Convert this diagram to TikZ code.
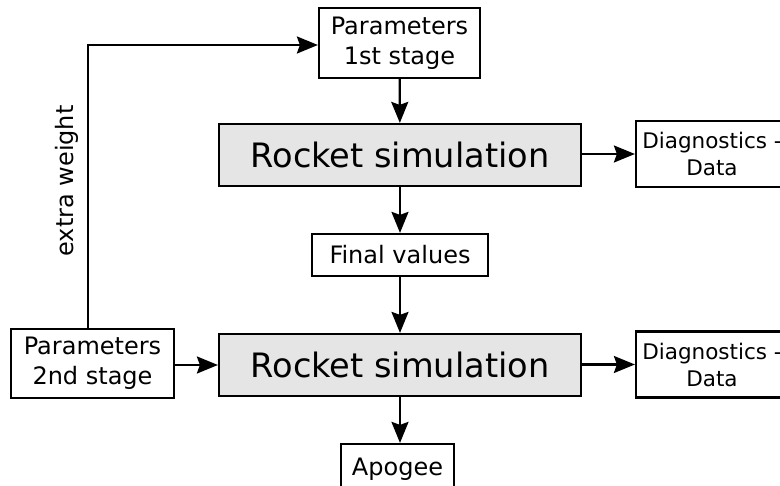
\documentclass[tikz,border=0pt]{standalone}
\usepackage{fontspec}
\setmainfont{DejaVu Sans}
\usetikzlibrary{arrows.meta,calc}
\begin{document}
\begin{tikzpicture}[x=1pt,y=-1pt,
  box/.style={draw,line width=2.2pt,inner sep=0pt,align=center,font=\fontsize{24}{30}\selectfont},
  sim/.style={box,fill=black!10,font=\fontsize{33.6}{40}\selectfont},
  diag/.style={box,font=\fontsize{21.5}{27}\selectfont},
  arr/.style={line width=2.2pt,-{Stealth[length=21pt,width=17pt,inset=3pt]}},
  lbl/.style={font=\fontsize{24}{30}\selectfont}]
\useasboundingbox (0,0) rectangle (780,486);
\clip (0,0) rectangle (780,486);
\node[box,minimum width=161pt,minimum height=70pt] (p1) at (399.5,43) {Parameters\\1st stage};
\node[sim,minimum width=362pt,minimum height=62pt] (r1) at (400,155) {Rocket simulation};
\node[diag,minimum width=152pt,minimum height=66pt] (d1) at (712,154) {Diagnostics -\\Data};
\node[box,minimum width=176pt,minimum height=42pt] (fv) at (400,255) {Final values};
\node[sim,minimum width=362pt,minimum height=62pt] (r2) at (400,365) {Rocket simulation};
\node[diag,minimum width=152pt,minimum height=66pt] (d2) at (712,364.5) {Diagnostics -\\Data};
\node[box,minimum width=163pt,minimum height=69pt] (p2) at (92.5,363.5) {Parameters\\2nd stage};
\node[box,minimum width=113pt,minimum height=50pt] (ap) at (397.5,469) {Apogee};
\coordinate (ew) at (88,45);
\draw[arr] (p1) -- (r1);
\draw[arr] (r1) -- (fv);
\draw[arr] (fv) -- (r2);
\draw[arr] (r2.south) -- (r2.south |- ap.north);
\draw[arr] (r1.east |- d1.west) -- (d1.west);
\draw[arr] (r2.east |- d2.west) -- (d2.west);
\draw[arr] (p2.east |- r2.west) -- (r2.west);
\draw[arr] (ew |- p2.north) -- (ew) -- (p1.west |- ew);
\node[lbl,rotate=90] (ewl) at (67,181) {extra weight};
\end{tikzpicture}
\end{document}
